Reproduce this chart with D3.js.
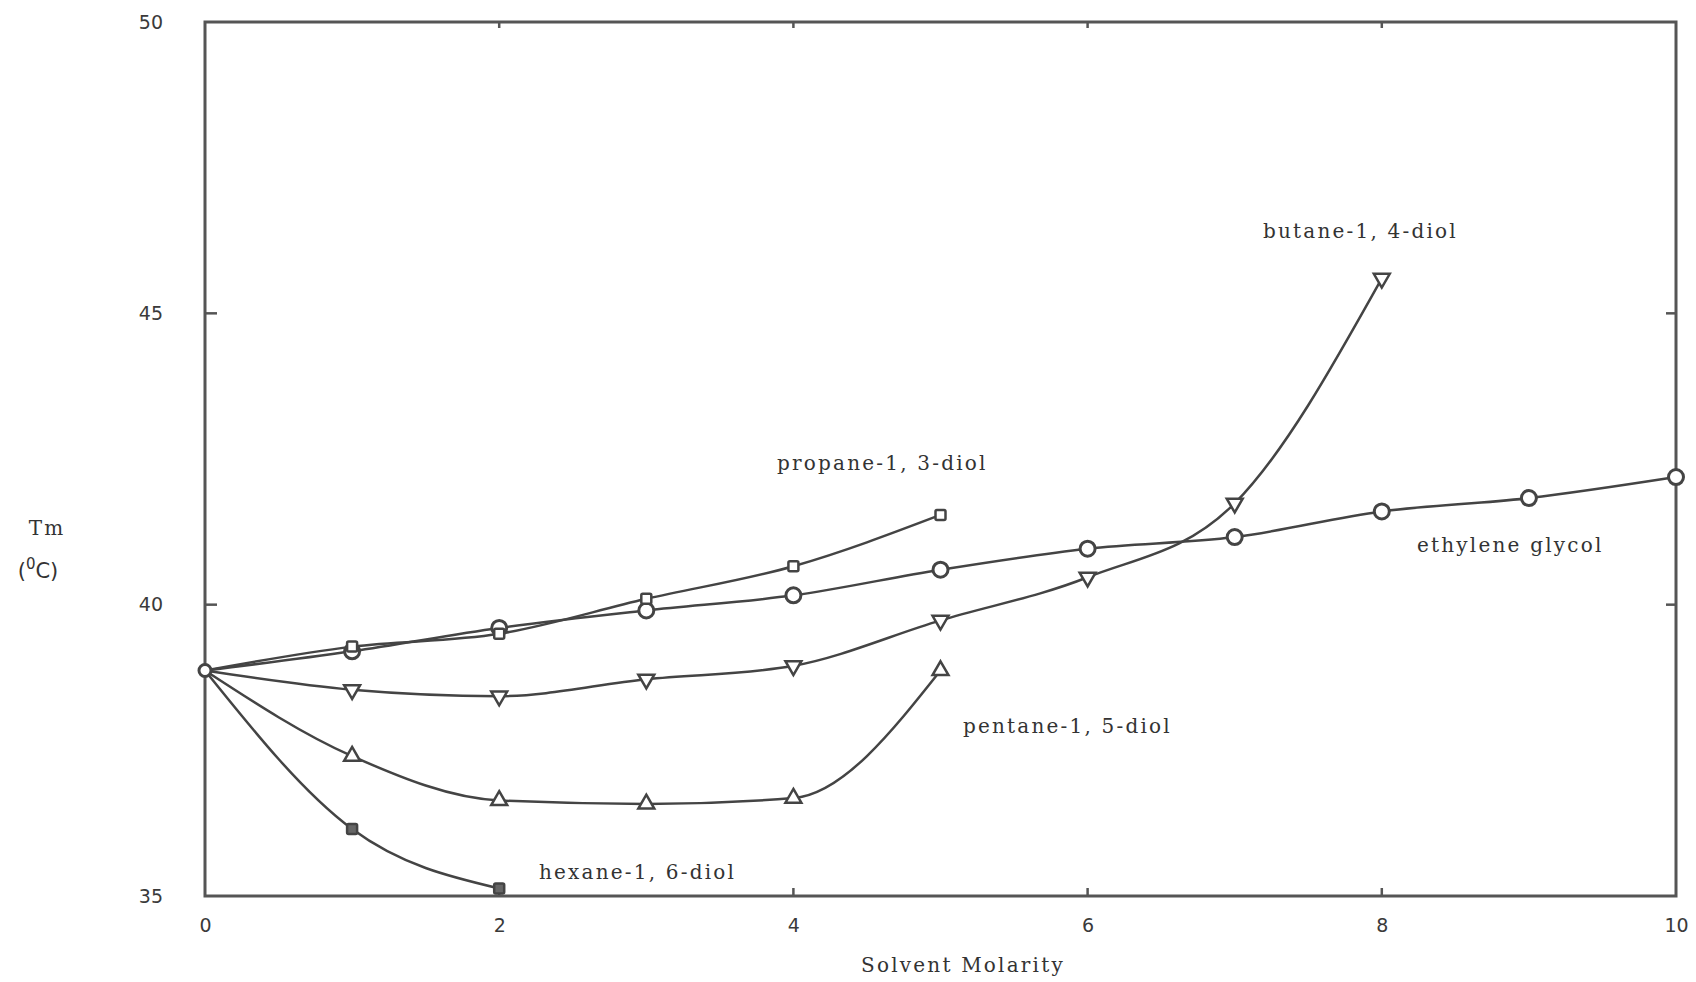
<!DOCTYPE html>
<html>
<head>
<meta charset="utf-8">
<script src="https://cdn.jsdelivr.net/npm/d3@7"></script>
<style>
  html, body { margin: 0; padding: 0; background: #fff; }
  svg { display: block; }
  .tick text { font-family: "DejaVu Sans", Verdana, sans-serif; font-size: 19px; fill: #3a3a3a; }
  .lbl { font-family: "DejaVu Serif", "Liberation Serif", serif; font-size: 20px; letter-spacing: 2.2px; fill: #333; }
</style>
</head>
<body>
<svg id="chart"></svg>
<script>
// solvent molarity (M) for each diol
const egX = [0, 1, 2, 3, 4, 5, 6, 7, 8, 9, 10];
const egY = [38.87, 39.2, 39.6, 39.9, 40.16, 40.6, 40.96, 41.16, 41.6, 41.83, 42.19];

const propX = [0, 1, 2, 3, 4, 5];
const propY = [38.87, 39.28, 39.5, 40.1, 40.66, 41.54];

const butX = [0, 1, 2, 3, 4, 5, 6, 7, 8];
const butY = [38.87, 38.54, 38.43, 38.72, 38.95, 39.73, 40.47, 41.74, 45.6];

const pentX = [0, 1, 2, 3, 4, 5];
const pentY = [38.87, 37.4, 36.64, 36.58, 36.68, 38.87];

const hexX = [0, 1, 2];
const hexY = [38.87, 36.15, 35.13];

const xTicks = [0, 2, 4, 6, 8, 10];
const yTicks = [35, 40, 45, 50];

const width = 1696, height = 982;
const margin = { top: 22, right: 20, bottom: 86, left: 205 };
const ink = '#444';

const svg = d3.select('#chart')
  .attr('width', width)
  .attr('height', height);

const x = d3.scaleLinear()
  .domain([0, 10])
  .range([margin.left, width - margin.right]);

const y = d3.scaleLinear()
  .domain([35, 50])
  .range([height - margin.bottom, margin.top]);

// frame
svg.append('rect')
  .attr('x', x(0))
  .attr('y', y(50))
  .attr('width', x(10) - x(0))
  .attr('height', y(35) - y(50))
  .attr('fill', 'none')
  .attr('stroke', '#555')
  .attr('stroke-width', 3);

// axes (labels outside, small inward ticks)
const xAxis = svg.append('g')
  .attr('transform', `translate(0,${y(35)})`)
  .call(d3.axisBottom(x).tickValues(xTicks).tickSize(0).tickPadding(23).tickFormat(d3.format('d')));
xAxis.select('.domain').remove();

const yAxis = svg.append('g')
  .attr('transform', `translate(${x(0)},0)`)
  .call(d3.axisLeft(y).tickValues(yTicks).tickSize(0).tickPadding(42).tickFormat(d3.format('d')));
yAxis.select('.domain').remove();

const inner = [2, 4, 6, 8];
svg.append('g').selectAll('line.bt')
  .data(inner).enter().append('line')
  .attr('x1', d => x(d)).attr('x2', d => x(d))
  .attr('y1', y(35)).attr('y2', y(35) - 8)
  .attr('stroke', '#555').attr('stroke-width', 2.5);
svg.append('g').selectAll('line.tt')
  .data(inner).enter().append('line')
  .attr('x1', d => x(d)).attr('x2', d => x(d))
  .attr('y1', y(50)).attr('y2', y(50) + 6)
  .attr('stroke', '#555').attr('stroke-width', 2.5);
svg.append('g').selectAll('line.lt')
  .data([40, 45]).enter().append('line')
  .attr('x1', x(0)).attr('x2', x(0) + 12)
  .attr('y1', d => y(d)).attr('y2', d => y(d))
  .attr('stroke', '#555').attr('stroke-width', 2.5);
svg.append('g').selectAll('line.rt')
  .data([40, 45]).enter().append('line')
  .attr('x1', x(10)).attr('x2', x(10) - 10)
  .attr('y1', d => y(d)).attr('y2', d => y(d))
  .attr('stroke', '#555').attr('stroke-width', 2.5);

// curves
const line = d3.line()
  .x(d => x(d[0]))
  .y(d => y(d[1]))
  .curve(d3.curveMonotoneX);

const series = [
  { xs: egX, ys: egY, shape: 'circle' },
  { xs: propX, ys: propY, shape: 'square' },
  { xs: butX, ys: butY, shape: 'down' },
  { xs: pentX, ys: pentY, shape: 'up' },
  { xs: hexX, ys: hexY, shape: 'filled' }
];

series.forEach(s => {
  const pts = s.xs.map((v, i) => [v, s.ys[i]]);
  svg.append('path')
    .datum(pts)
    .attr('d', line)
    .attr('fill', 'none')
    .attr('stroke', ink)
    .attr('stroke-width', 2.5);
});

// markers
const tri = d3.symbol().type(d3.symbolTriangle).size(110);
series.forEach(s => {
  const pts = s.xs.map((v, i) => [v, s.ys[i]]).filter(d => d[0] > 0);
  const g = svg.append('g');
  if (s.shape === 'circle') {
    g.selectAll('circle').data(pts).enter().append('circle')
      .attr('cx', d => x(d[0])).attr('cy', d => y(d[1])).attr('r', 7.5)
      .attr('fill', '#fff').attr('stroke', ink).attr('stroke-width', 3);
  } else if (s.shape === 'square' || s.shape === 'filled') {
    g.selectAll('rect').data(pts).enter().append('rect')
      .attr('x', d => x(d[0]) - 5).attr('y', d => y(d[1]) - 5)
      .attr('width', 10).attr('height', 10).attr('rx', 1.5)
      .attr('fill', s.shape === 'filled' ? '#666' : '#fff')
      .attr('stroke', ink).attr('stroke-width', 2.5);
  } else {
    const rot = s.shape === 'down' ? 180 : 0;
    g.selectAll('path').data(pts).enter().append('path')
      .attr('d', tri)
      .attr('transform', d => `translate(${x(d[0])},${y(d[1])}) rotate(${rot})`)
      .attr('fill', '#fff').attr('stroke', ink).attr('stroke-width', 2.5);
  }
});
// common origin point
svg.append('circle')
  .attr('cx', x(0)).attr('cy', y(egY[0])).attr('r', 6)
  .attr('fill', '#fff').attr('stroke', ink).attr('stroke-width', 3);

// curve labels
const labels = [
  { t: 'butane-1, 4-diol', x: 1263, y: 238 },
  { t: 'propane-1, 3-diol', x: 777, y: 470 },
  { t: 'ethylene glycol', x: 1417, y: 552 },
  { t: 'pentane-1, 5-diol', x: 963, y: 733 },
  { t: 'hexane-1, 6-diol', x: 539, y: 879 }
];
svg.append('g').selectAll('text').data(labels).enter().append('text')
  .attr('class', 'lbl')
  .attr('x', d => d.x).attr('y', d => d.y)
  .text(d => d.t);

// axis titles
svg.append('text').attr('class', 'lbl')
  .attr('x', 47).attr('y', 535).attr('text-anchor', 'middle')
  .text('Tm');
const unit = svg.append('text')
  .attr('x', 38).attr('y', 578).attr('text-anchor', 'middle')
  .attr('font-family', '"DejaVu Sans", Verdana, sans-serif')
  .attr('font-size', 21).attr('fill', '#333');
unit.append('tspan').text('(');
unit.append('tspan').attr('dy', -9).attr('font-size', 15).text('0');
unit.append('tspan').attr('dy', 9).text('C)');

svg.append('text').attr('class', 'lbl')
  .attr('x', 963).attr('y', 972).attr('text-anchor', 'middle')
  .text('Solvent Molarity');
</script>
</body>
</html>
